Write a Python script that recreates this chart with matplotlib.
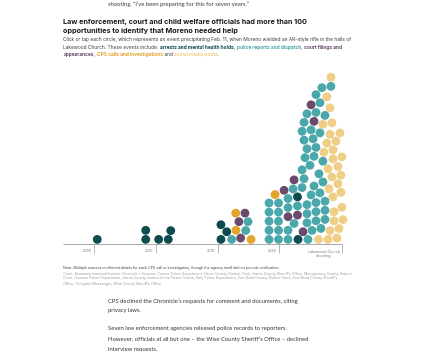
import numpy as np
import matplotlib
matplotlib.use('Agg')
import matplotlib.pyplot as plt

# --- data -------------------------------------------------------------
# position of each event on the chart's time axis (years), in drawing order,
# and the kind of event
event_year = [
    # early arrests
    2005.24, 2009.17, 2009.17, 2010.22, 2011.00, 2011.20,
    # 2015-2017
    2015.27, 2016.14, 2016.87, 2017.71,
    2015.74, 2016.49, 2017.28,
    2015.27, 2016.73, 2017.47,
    2016.47, 2017.22,
    # 2019 onwards
    2019.17, 2019.94, 2020.71, 2021.52, 2022.33, 2023.18, 2023.95, 2024.68,
    2019.17, 2019.94, 2020.71, 2021.20, 2021.93, 2022.66, 2023.38, 2024.12, 2024.84,
    2019.17, 2019.94, 2020.71, 2021.48, 2022.25, 2022.98, 2023.71, 2024.44, 2025.17,
    2019.17, 2019.94, 2020.71, 2021.48, 2022.25, 2022.98, 2023.71, 2024.44, 2025.08,
    2019.17, 2019.94, 2020.71, 2021.48, 2022.25, 2022.98, 2023.71, 2024.36, 2025.00,
    2019.66, 2020.39, 2021.12, 2021.85, 2022.58, 2023.30, 2024.03, 2024.76,
    2021.20, 2022.01, 2022.82, 2023.54, 2024.27, 2025.00,
    2021.85, 2022.49, 2023.22, 2023.95, 2024.76,
    2022.09, 2022.82, 2023.54, 2024.36, 2025.08,
    2022.25, 2022.98, 2023.62, 2024.36,
    2022.01, 2022.74, 2023.86, 2024.60,
    2021.85, 2022.58, 2023.30, 2024.12,
    2022.01, 2022.82, 2023.54, 2024.27,
    2022.25, 2022.98, 2023.71,
    2022.58, 2023.30, 2024.12,
    2022.98, 2023.86,
    2023.46, 2024.19,
    2024.19,
    2024.92,
]
event_type = [
    'arr', 'arr', 'arr', 'arr', 'arr', 'arr',
    'arr', 'pol', 'crt', 'cps',
    'arr', 'cps', 'pol',
    'arr', 'crt', 'pol',
    'cps', 'crt',
    'pol', 'pol', 'pol', 'arr', 'pol', 'soc', 'soc', 'soc',
    'pol', 'pol', 'pol', 'pol', 'crt', 'pol', 'pol', 'soc', 'soc',
    'pol', 'pol', 'crt', 'crt', 'pol', 'pol', 'pol', 'soc', 'soc',
    'pol', 'pol', 'pol', 'pol', 'pol', 'pol', 'pol', 'soc', 'soc',
    'pol', 'pol', 'pol', 'arr', 'pol', 'pol', 'pol', 'soc', 'soc',
    'cps', 'crt', 'pol', 'pol', 'pol', 'pol', 'soc', 'soc',
    'crt', 'pol', 'pol', 'pol', 'soc', 'soc',
    'pol', 'pol', 'pol', 'soc', 'soc',
    'pol', 'pol', 'pol', 'soc', 'soc',
    'pol', 'pol', 'soc', 'soc',
    'pol', 'pol', 'soc', 'soc',
    'pol', 'pol', 'pol', 'soc',
    'pol', 'crt', 'soc', 'soc',
    'pol', 'pol', 'pol',
    'crt', 'pol', 'soc',
    'pol', 'soc',
    'pol', 'pol',
    'soc',
    'soc',
]

type_color = {
    'arr': '#0e4b4e',   # arrests and mental health holds
    'pol': '#4aa8aa',   # police reports and dispatch
    'crt': '#6b4a6b',   # court filings and appearances
    'cps': '#e3a42c',   # CPS calls and investigations
    'soc': '#efcf85',   # social media posts
}

tick_years = [2005, 2010, 2015, 2020]
tick_labels = ['2005', '2010', '2015', '2020']
axis_start = 2002.5
shooting_year = 2025.06
shooting_label = 'Lakewood Church\nshooting'

# --- figure -------------------------------------------------------------
W, H = 426, 351
fig = plt.figure(figsize=(W / 100, H / 100), dpi=100)
fig.patch.set_facecolor('white')
renderer = fig.canvas.get_renderer()


def ftext(x, y, s, **kw):
    # place text by pixel position (from top-left)
    kw.setdefault('va', 'center')
    return fig.text(x / W, 1 - y / H, s, **kw)


def fit(t, width):
    # scale a text so it spans `width` pixels, return the new size
    w = t.get_window_extent(renderer).width
    t.set_fontsize(t.get_fontsize() * width / w)
    return t.get_fontsize()


# chart axes: 12.33 px per year in both directions so circles stay round
ppy = 12.33
L, R, T, B = 40, 380, 60, 262
base_px, x0_px = 244.3, 94.3
ax = fig.add_axes([L / W, 1 - B / H, (R - L) / W, (B - T) / H])
ax.set_xlim(2005 + (L - x0_px) / ppy, 2005 + (R - x0_px) / ppy)
ax.set_ylim(-(B - base_px) / ppy, (base_px - T) / ppy)
ax.axis('off')


def dodge(xs, gap, y0):
    placed, ys = [], []
    for x in xs:
        cands = [y0]
        for px, py in placed:
            dx = abs(x - px)
            if dx < gap:
                cands.append(py + np.sqrt(gap ** 2 - dx ** 2))
        for c in sorted(cands):
            if all((x - px) ** 2 + (c - py) ** 2 >= gap ** 2 - 1e-9
                   for px, py in placed):
                break
        placed.append((x, c))
        ys.append(c)
    return ys


gap = 9.1 / ppy
ys = dodge(event_year, gap, 4.9 / ppy)
colors = [type_color[t] for t in event_type]
dot_px = 8.8
ax.scatter(event_year, ys, s=(dot_px * 0.72) ** 2, c=colors,
           linewidths=0, zorder=3, clip_on=False)

# axis line, ticks, labels
ax.hlines(0, axis_start, shooting_year, color='#9a9a9a', lw=0.6, zorder=1)
tick_len = 9 / ppy
for yr, lab in zip(tick_years, tick_labels):
    ax.vlines(yr, -tick_len, 0, color='#9a9a9a', lw=0.5)
    ax.text(yr - 0.2, -0.55, lab, ha='right', va='center',
            fontsize=2.7, color='#777777', family='Inter')
ax.vlines(shooting_year, -tick_len, 0, color='#9a9a9a', lw=0.5)
ax.text(shooting_year - 0.12, -0.75, shooting_label, ha='right', va='center',
        multialignment='center', fontsize=2.7, color='#777777',
        family='Inter', linespacing=1.0)

# --- text ---------------------------------------------------------------
body = dict(family='Lato', color='#3a3a3a', fontsize=4)
fit(ftext(108, 4.5, 'shooting. \u201cI\u2019ve been preparing for this for seven '
          'years.\u201d', **body), 141)

t1 = ftext(63.5, 22, 'Law enforcement, court and child welfare officials had more than 100',
           family='Inter', fontweight='bold', fontsize=5, color='#1b1b1b')
tsize = fit(t1, 243)
ftext(63.5, 31, 'opportunities to identify that Moreno needed help',
      family='Inter', fontweight='bold', fontsize=tsize, color='#1b1b1b')


def rich_line(x, y, parts, size):
    for s, color, weight in parts:
        t = ftext(x, y, s, color=color, fontweight=weight, fontsize=size,
                  family='Inter')
        x += t.get_window_extent(renderer).width


grey = '#3f3f3f'
s1 = ftext(63.5, 40, 'Click or tap each circle, which represents an event precipitating '
           'Feb. 11, when Moreno wielded an AR-style rifle in the halls of',
           color=grey, fontsize=3.3, family='Inter')
ssize = fit(s1, 288)
rich_line(63.5, 47.3, [('Lakewood Church. These events include: ', grey, 'normal'),
                       ('arrests and mental health holds', type_color['arr'], 'bold'),
                       (', ', grey, 'normal'),
                       ('police reports and dispatch', type_color['pol'], 'bold'),
                       (', ', grey, 'normal'),
                       ('court filings and', type_color['crt'], 'bold')], ssize)
rich_line(63.5, 54.6, [('appearances', type_color['crt'], 'bold'),
                       (', ', grey, 'normal'),
                       ('CPS calls and investigations', type_color['cps'], 'bold'),
                       (' and ', grey, 'normal'),
                       ('social media posts', type_color['soc'], 'bold'),
                       ('.', grey, 'normal')], ssize)

note = dict(family='Inter', fontsize=2.5)
fit(ftext(62.7, 268.3, 'Note: Multiple sources confirmed details for each CPS call or '
          'investigation, though the agency itself did not provide verification.',
          color='#444444', **note), 222)
src = ['Chart: Anastasia Ivanova/Houston Chronicle \u2022 Sources: Conroe Police '
       'Department, Harris County District Clerk, Harris County Sheriff\u2019s Office, '
       'Montgomery County District',
       'Clerk, Houston Police Department, Harris County Justice of the Peace Courts, '
       'Katy Police Department, Fort Bend County District Clerk, Fort Bend County '
       'Sheriff\u2019s',
       'Office, Telegram Messenger, Wise County Sheriff\u2019s Office']
src_texts = [ftext(62.7, 273.5 + 5 * i, line, color='#9a9a9a', **note)
             for i, line in enumerate(src)]
nsize = fit(src_texts[0], 290)
for t in src_texts[1:]:
    t.set_fontsize(nsize)

para = dict(family='Lato', color='#333333', fontsize=4.3)
p1 = ftext(108, 301.5, 'CPS declined the Chronicle\u2019s requests for comment and '
           'documents, citing', **para)
para['fontsize'] = fit(p1, 192)
ftext(108, 310.5, 'privacy laws.', **para)
ftext(108, 328.3, 'Seven law enforcement agencies released police records to reporters.',
      **para)
ftext(108, 339.3, 'However, officials at all but one \u2013 the Wise County Sheriff\u2019s '
      'Office \u2013 declined', **para)
ftext(108, 349.5, 'interview requests.', **para)

fig.savefig('out.png', dpi=100, facecolor='white')
